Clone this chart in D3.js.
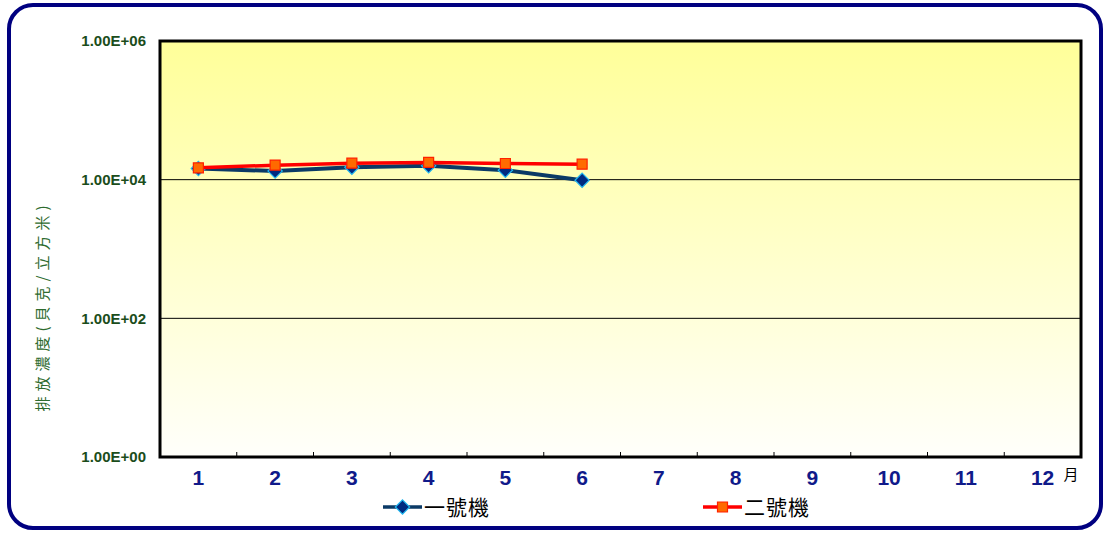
<!DOCTYPE html>
<html>
<head>
<meta charset="utf-8">
<script src="https://cdn.jsdelivr.net/npm/d3@7"></script>
<style>
  html, body { margin: 0; padding: 0; background: #ffffff; }
  svg { display: block; }
</style>
</head>
<body>
<svg id="chart" width="1104" height="534"></svg>
<script>
// chart data
const months = [1, 2, 3, 4, 5, 6, 7, 8, 9, 10, 11, 12];
const unit1 = [14500, 13300, 15100, 15900, 13700, 9800];
const unit2 = [14800, 16200, 17300, 17700, 17100, 16700];
const seriesNames = ["一號機", "二號機"];
const yTicks = [1, 100, 10000, 1000000];
const yTitle = "排放濃度(貝克/立方米)";
const xUnit = "月";

const svg = d3.select("#chart");
const latin = "'Liberation Sans', Arial, sans-serif";
const cjk = "'Noto Sans CJK TC', 'Noto Sans CJK SC', sans-serif";

// outer rounded frame
svg.append("rect")
    .attr("x", 9).attr("y", 5)
    .attr("width", 1092).attr("height", 523)
    .attr("rx", 24).attr("ry", 24)
    .attr("fill", "#ffffff")
    .attr("stroke", "#000080")
    .attr("stroke-width", 4);

const plot = { left: 160, right: 1081, top: 41, bottom: 457 };

const x = d3.scaleBand()
    .domain(months)
    .range([plot.left, plot.right]);

const y = d3.scaleLog()
    .domain([1, 1000000])
    .range([plot.bottom, plot.top]);

// plot background gradient
const defs = svg.append("defs");
const grad = defs.append("linearGradient")
    .attr("id", "bg").attr("x1", 0).attr("y1", 0).attr("x2", 0).attr("y2", 1);
grad.append("stop").attr("offset", "0%").attr("stop-color", "#ffff99");
grad.append("stop").attr("offset", "100%").attr("stop-color", "#fffffb");

svg.append("rect")
    .attr("x", plot.left).attr("y", plot.top)
    .attr("width", plot.right - plot.left).attr("height", plot.bottom - plot.top)
    .attr("fill", "url(#bg)");

// gridlines
svg.append("g")
    .selectAll("line")
    .data(yTicks.slice(1, -1))
    .enter().append("line")
    .attr("x1", plot.left).attr("x2", plot.right)
    .attr("y1", d => y(d)).attr("y2", d => y(d))
    .attr("stroke", "#000000")
    .attr("stroke-width", 1);

// x ticks between months
svg.append("g")
    .selectAll("line")
    .data(months.slice(1))
    .enter().append("line")
    .attr("x1", d => x(d)).attr("x2", d => x(d))
    .attr("y1", plot.bottom).attr("y2", plot.bottom - 5)
    .attr("stroke", "#000000")
    .attr("stroke-width", 1);

// plot frame
svg.append("rect")
    .attr("x", plot.left).attr("y", plot.top)
    .attr("width", plot.right - plot.left).attr("height", plot.bottom - plot.top)
    .attr("fill", "none")
    .attr("stroke", "#000000")
    .attr("stroke-width", 3);

// y tick labels
svg.append("g")
    .selectAll("text")
    .data(yTicks)
    .enter().append("text")
    .attr("x", 146)
    .attr("y", d => y(d))
    .attr("dy", "0.36em")
    .attr("text-anchor", "end")
    .attr("font-family", latin)
    .attr("font-weight", "bold")
    .attr("font-size", 15)
    .attr("fill", "#1b4d1b")
    .text(d => d3.format(".2e")(d).replace("e", "E").replace(/E([+-])(\d)$/, "E$10$2").toUpperCase());

// x tick labels
svg.append("g")
    .selectAll("text")
    .data(months)
    .enter().append("text")
    .attr("x", d => x(d) + x.bandwidth() / 2)
    .attr("y", 485)
    .attr("text-anchor", "middle")
    .attr("font-family", latin)
    .attr("font-weight", "bold")
    .attr("font-size", 21)
    .attr("fill", "#101a8a")
    .text(d => d);

svg.append("text")
    .attr("x", 1071).attr("y", 480)
    .attr("text-anchor", "middle")
    .attr("font-family", cjk)
    .attr("font-size", 15)
    .attr("fill", "#000000")
    .text(xUnit);

// y axis title
svg.append("text")
    .attr("transform", "translate(48,306) rotate(-90)")
    .attr("text-anchor", "middle")
    .attr("font-family", cjk)
    .attr("font-size", 15)
    .attr("letter-spacing", 5)
    .attr("fill", "#2e6b2e")
    .text(yTitle);

const line = d3.line()
    .x((d, i) => x(months[i]) + x.bandwidth() / 2)
    .y(d => y(d));

// rotated square for the diamond marker
const diamond = d3.symbol().type(d3.symbolDiamond2).size(130);
const square = d3.symbol().type(d3.symbolSquare).size(100);

// series 1
svg.append("path")
    .datum(unit1)
    .attr("d", line)
    .attr("fill", "none")
    .attr("stroke", "#0b3a66")
    .attr("stroke-width", 4);

svg.append("g")
    .selectAll("path")
    .data(unit1)
    .enter().append("path")
    .attr("d", diamond)
    .attr("transform", (d, i) => `translate(${x(months[i]) + x.bandwidth() / 2},${y(d)})`)
    .attr("fill", "#002a80")
    .attr("stroke", "#22b8f0")
    .attr("stroke-width", 1.2);

// series 2
svg.append("path")
    .datum(unit2)
    .attr("d", line)
    .attr("fill", "none")
    .attr("stroke", "#ff0000")
    .attr("stroke-width", 3.5);

svg.append("g")
    .selectAll("path")
    .data(unit2)
    .enter().append("path")
    .attr("d", square)
    .attr("transform", (d, i) => `translate(${x(months[i]) + x.bandwidth() / 2},${y(d)})`)
    .attr("fill", "#ff6a00")
    .attr("stroke", "#ff2000")
    .attr("stroke-width", 1.2);

// legend
const legendY = 507;
const legend = [
    { name: seriesNames[0], x: 383, color: "#0b3a66", sym: diamond, fill: "#002a80", stroke: "#22b8f0" },
    { name: seriesNames[1], x: 703, color: "#ff0000", sym: square, fill: "#ff6a00", stroke: "#ff2000" }
];

const lg = svg.append("g")
    .selectAll("g")
    .data(legend)
    .enter().append("g")
    .attr("transform", d => `translate(${d.x},${legendY})`);

lg.append("line")
    .attr("x1", 0).attr("x2", 39)
    .attr("stroke", d => d.color)
    .attr("stroke-width", 3.5);

lg.append("path")
    .attr("d", d => d.sym())
    .attr("transform", "translate(19.5,0)")
    .attr("fill", d => d.fill)
    .attr("stroke", d => d.stroke)
    .attr("stroke-width", 1.2);

lg.append("text")
    .attr("x", 41)
    .attr("dy", "0.36em")
    .attr("font-family", cjk)
    .attr("font-size", 21)
    .attr("letter-spacing", 1)
    .attr("fill", "#000000")
    .text(d => d.name);
</script>
</body>
</html>
